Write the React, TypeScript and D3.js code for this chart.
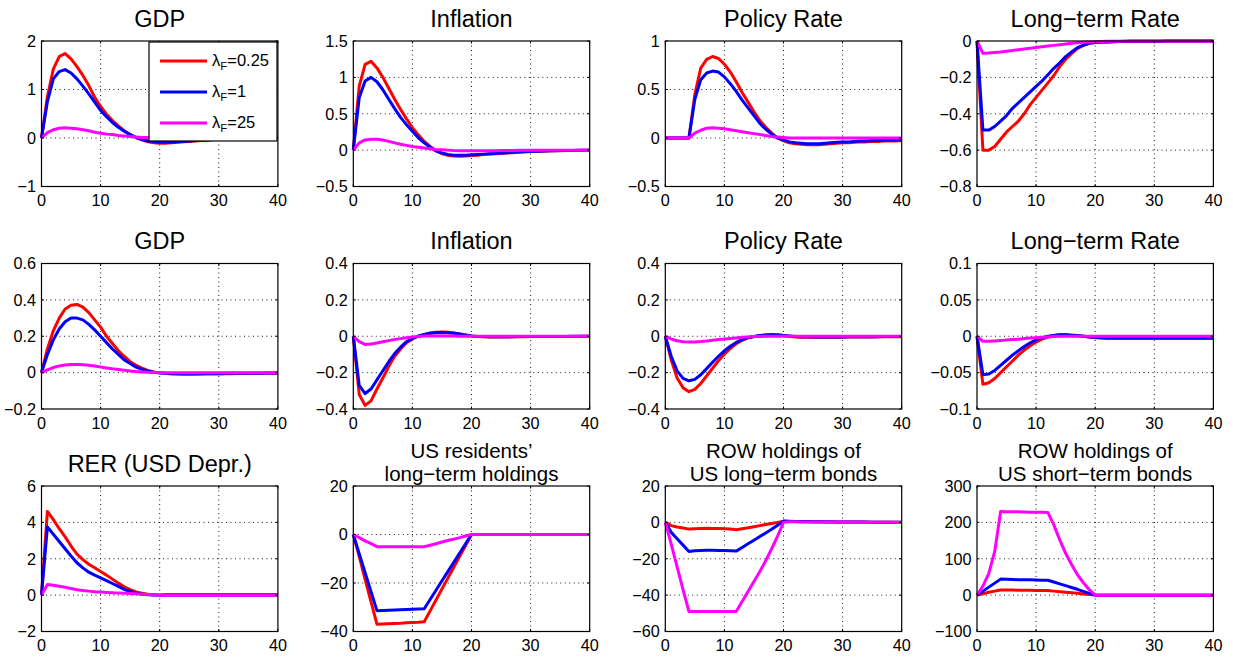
import React from 'react';
import * as d3 from 'd3';

// ---------- DATA ----------
const xTicks = [0, 10, 20, 30, 40];
const seriesNames = ['λF=0.25', 'λF=1', 'λF=25'];
const seriesColors = ['#ff0000', '#0000ff', '#ff00ff'];

// Row 1
const gdpA_r = [0,0.85,1.42,1.68,1.74,1.63,1.47,1.29,1.08,0.84,0.65,0.49,0.36,0.25,0.15,0.07,0.01,-0.04,-0.08,-0.1,-0.11,-0.11,-0.1,-0.09,-0.08,-0.07,-0.06,-0.05,-0.04,-0.03,-0.03,-0.02,-0.02,-0.01,-0.01,-0.01,-0.01,0,0,0,0];
const gdpA_b = [0,0.75,1.22,1.37,1.41,1.34,1.22,1.07,0.91,0.74,0.57,0.44,0.32,0.22,0.14,0.07,0.01,-0.03,-0.06,-0.08,-0.09,-0.09,-0.09,-0.08,-0.07,-0.06,-0.05,-0.04,-0.04,-0.03,-0.02,-0.02,-0.02,-0.01,-0.01,-0.01,-0.01,0,0,0,0];
const gdpA_m = [0,0.11,0.17,0.2,0.21,0.2,0.19,0.17,0.15,0.12,0.1,0.08,0.07,0.05,0.04,0.03,0.02,0.01,0.01,0,0,0,-0.01,-0.01,-0.01,-0.01,-0.01,-0.01,-0.01,0,0,0,0,0,0,0,0,0,0,0,0];

const infA_r = [0,0.88,1.18,1.22,1.13,1,0.85,0.7,0.56,0.43,0.31,0.21,0.12,0.05,-0.01,-0.05,-0.07,-0.08,-0.085,-0.08,-0.075,-0.07,-0.06,-0.055,-0.05,-0.045,-0.04,-0.035,-0.03,-0.025,-0.02,-0.018,-0.015,-0.012,-0.01,-0.008,-0.006,-0.005,-0.004,-0.003,-0.002];
const infA_b = [0,0.72,0.95,1,0.94,0.83,0.7,0.57,0.45,0.35,0.26,0.17,0.1,0.04,-0.01,-0.04,-0.06,-0.07,-0.07,-0.07,-0.065,-0.06,-0.055,-0.05,-0.045,-0.04,-0.035,-0.03,-0.025,-0.02,-0.018,-0.015,-0.012,-0.01,-0.008,-0.006,-0.005,-0.004,-0.003,-0.002,-0.002];
const infA_m = [0,0.1,0.14,0.15,0.15,0.14,0.12,0.1,0.08,0.065,0.05,0.04,0.03,0.02,0.01,0.005,0,-0.005,-0.008,-0.01,-0.01,-0.01,-0.01,-0.008,-0.007,-0.006,-0.005,-0.004,-0.003,-0.002,-0.002,-0.001,-0.001,0,0,0,0,0,0,0,0];

const polA_r = [0,0,0,0,0,0.45,0.72,0.81,0.84,0.82,0.76,0.68,0.58,0.47,0.37,0.27,0.18,0.11,0.05,0,-0.03,-0.05,-0.06,-0.065,-0.07,-0.07,-0.07,-0.065,-0.06,-0.055,-0.05,-0.05,-0.045,-0.04,-0.04,-0.035,-0.035,-0.03,-0.03,-0.03,-0.025];
const polA_b = [0,0,0,0,0,0.4,0.6,0.67,0.69,0.68,0.63,0.56,0.48,0.39,0.31,0.23,0.15,0.09,0.04,0,-0.02,-0.04,-0.05,-0.055,-0.06,-0.06,-0.06,-0.055,-0.05,-0.045,-0.04,-0.04,-0.035,-0.03,-0.03,-0.025,-0.025,-0.02,-0.02,-0.02,-0.02];
const polA_m = [0,0,0,0,0,0.05,0.08,0.1,0.105,0.1,0.095,0.085,0.075,0.065,0.055,0.045,0.035,0.025,0.015,0.01,0.005,0,0,0,0,0,0,0,0,0,0,0,0,0,0,0,0,0,0,0,0];

const ltA_r = [0,-0.6,-0.6,-0.58,-0.54,-0.5,-0.47,-0.44,-0.4,-0.35,-0.31,-0.27,-0.23,-0.19,-0.14,-0.1,-0.07,-0.04,-0.025,-0.013,-0.008,-0.006,-0.005,-0.004,-0.003,-0.003,-0.002,-0.002,-0.002,-0.001,-0.001,-0.001,0,0,0,0,0,0,0,0,0];
const ltA_b = [0,-0.49,-0.49,-0.47,-0.44,-0.41,-0.37,-0.34,-0.31,-0.28,-0.25,-0.22,-0.185,-0.15,-0.12,-0.086,-0.06,-0.037,-0.022,-0.013,-0.008,-0.006,-0.005,-0.004,-0.003,-0.003,-0.002,-0.002,-0.002,-0.001,-0.001,-0.001,0,0,0,0,0,0,0,0,0];
const ltA_m = [0,-0.068,-0.066,-0.063,-0.06,-0.056,-0.052,-0.048,-0.044,-0.04,-0.036,-0.032,-0.028,-0.024,-0.02,-0.016,-0.013,-0.01,-0.007,-0.005,-0.004,-0.003,-0.002,-0.002,-0.001,0,0,0,0,0,0,0,0,0,0,0,0,0,0,0,0];

// Row 2
const gdpB_r = [0,0.13,0.23,0.3,0.35,0.37,0.375,0.36,0.33,0.29,0.25,0.2,0.16,0.12,0.09,0.06,0.04,0.025,0.012,0.004,0,-0.004,-0.007,-0.008,-0.009,-0.009,-0.009,-0.008,-0.008,-0.007,-0.007,-0.006,-0.006,-0.005,-0.005,-0.005,-0.004,-0.004,-0.004,-0.003,-0.003];
const gdpB_b = [0,0.1,0.18,0.24,0.28,0.3,0.3,0.29,0.265,0.235,0.2,0.165,0.13,0.1,0.07,0.05,0.03,0.018,0.008,0.002,-0.002,-0.004,-0.005,-0.006,-0.006,-0.006,-0.006,-0.006,-0.005,-0.005,-0.005,-0.004,-0.004,-0.004,-0.003,-0.003,-0.003,-0.003,-0.002,-0.002,-0.002];
const gdpB_m = [0,0.015,0.028,0.037,0.042,0.045,0.045,0.043,0.04,0.036,0.031,0.026,0.021,0.017,0.013,0.009,0.006,0.004,0.002,0.001,0,0,0,0,0,0,0,0,0,0,0,0,0,0,0,0,0,0,0,0,0];

const infB_r = [0,-0.32,-0.38,-0.355,-0.29,-0.23,-0.165,-0.11,-0.07,-0.036,-0.015,0,0.009,0.018,0.022,0.024,0.022,0.018,0.013,0.007,0.002,-0.002,-0.003,-0.004,-0.004,-0.004,-0.004,-0.003,-0.003,-0.003,-0.002,-0.002,-0.002,-0.002,-0.001,-0.001,-0.001,-0.001,-0.001,0,0];
const infB_b = [0,-0.27,-0.315,-0.29,-0.24,-0.19,-0.14,-0.095,-0.06,-0.03,-0.012,0.001,0.01,0.016,0.019,0.02,0.019,0.016,0.012,0.007,0.002,-0.001,-0.002,-0.003,-0.003,-0.003,-0.003,-0.003,-0.002,-0.002,-0.002,-0.002,-0.001,-0.001,-0.001,-0.001,-0.001,0,0,0,0];
const infB_m = [0,-0.03,-0.045,-0.043,-0.037,-0.03,-0.024,-0.018,-0.013,-0.008,-0.004,-0.001,0.001,0.002,0.002,0.002,0.001,0.001,0,0,0,0,0,0,0,0,0,0,0,0,0,0,0,0,0,0,0,0,0,0,0];

const polB_r = [0,-0.13,-0.23,-0.283,-0.305,-0.292,-0.26,-0.218,-0.176,-0.135,-0.098,-0.067,-0.041,-0.022,-0.009,-0.002,0.004,0.007,0.009,0.008,0.004,0,-0.004,-0.005,-0.005,-0.005,-0.005,-0.005,-0.005,-0.005,-0.005,-0.004,-0.004,-0.004,-0.004,-0.004,-0.003,-0.003,-0.003,-0.003,-0.003];
const polB_b = [0,-0.11,-0.19,-0.232,-0.245,-0.237,-0.212,-0.178,-0.143,-0.11,-0.08,-0.055,-0.034,-0.018,-0.007,-0.001,0.004,0.007,0.008,0.007,0.004,0.001,-0.002,-0.003,-0.003,-0.004,-0.004,-0.004,-0.004,-0.004,-0.004,-0.003,-0.003,-0.003,-0.003,-0.003,-0.003,-0.002,-0.002,-0.002,-0.002];
const polB_m = [0,-0.015,-0.025,-0.03,-0.032,-0.031,-0.029,-0.026,-0.022,-0.018,-0.015,-0.012,-0.009,-0.006,-0.004,-0.002,-0.001,0,0,0,0,0,0,0,0,0,0,0,0,0,0,0,0,0,0,0,0,0,0,0,0];

const ltB_r = [0,-0.066,-0.064,-0.058,-0.05,-0.042,-0.034,-0.026,-0.019,-0.013,-0.008,-0.004,-0.001,0.001,0.002,0.002,0.0015,0.001,0,-0.001,-0.002,-0.0025,-0.003,-0.003,-0.003,-0.003,-0.003,-0.003,-0.003,-0.003,-0.003,-0.003,-0.003,-0.003,-0.003,-0.003,-0.003,-0.003,-0.003,-0.003,-0.003];
const ltB_b = [0,-0.053,-0.052,-0.047,-0.04,-0.033,-0.026,-0.02,-0.014,-0.009,-0.005,-0.002,0,0.001,0.002,0.002,0.0015,0.001,0,-0.001,-0.0015,-0.002,-0.002,-0.002,-0.002,-0.002,-0.002,-0.002,-0.002,-0.002,-0.002,-0.002,-0.002,-0.002,-0.002,-0.002,-0.002,-0.002,-0.002,-0.002,-0.002];
const ltB_m = [0,-0.007,-0.007,-0.0065,-0.006,-0.005,-0.0045,-0.004,-0.003,-0.0025,-0.002,-0.0015,-0.001,-0.0005,0,0,0,0,0,0,0,0,0,0,0,0,0,0,0,0,0,0,0,0,0,0,0,0,0,0,0];

// Row 3
const rer_r = [0,4.6,4.15,3.65,3.2,2.7,2.25,1.95,1.7,1.5,1.3,1.1,0.88,0.66,0.46,0.3,0.18,0.1,0.05,0.02,0,0.02,0.02,0.02,0.02,0.02,0.02,0.02,0.02,0.02,0.02,0.02,0.02,0.02,0.02,0.02,0.02,0.02,0.02,0.02,0.02];
const rer_b = [0,3.75,3.35,2.95,2.55,2.15,1.78,1.5,1.26,1.1,0.95,0.8,0.64,0.48,0.32,0.2,0.11,0.05,0.02,0.01,0,0.01,0.01,0.01,0.01,0.01,0.01,0.01,0.01,0.01,0.01,0.01,0.01,0.01,0.01,0.01,0.01,0.01,0.01,0.01,0.01];
const rer_m = [0,0.58,0.54,0.49,0.43,0.36,0.3,0.26,0.22,0.19,0.17,0.15,0.13,0.11,0.1,0.09,0.07,0.05,0.03,0.015,0,0,0,0,0,0,0,0,0,0,0,0,0,0,0,0,0,0,0,0,0];

const usLT_r = [0,-9,-18.5,-27.8,-37,-36.9,-36.8,-36.7,-36.6,-36.4,-36.3,-36.2,-36,-31.5,-27,-22.5,-18,-13.5,-9,-4.5,0,0,0,0,0,0,0,0,0,0,0,0,0,0,0,0,0,0,0,0,0];
const usLT_b = [0,-7.9,-15.8,-23.6,-31.4,-31.3,-31.2,-31.1,-31,-30.9,-30.8,-30.7,-30.6,-26.8,-23,-19.1,-15.3,-11.5,-7.6,-3.8,0,0,0,0,0,0,0,0,0,0,0,0,0,0,0,0,0,0,0,0,0];
const usLT_m = [0,-1.3,-2.6,-3.8,-5,-5,-5,-5,-5,-5,-5,-5,-5,-4.4,-3.8,-3.1,-2.5,-1.9,-1.3,-0.6,0,0,0,0,0,0,0,0,0,0,0,0,0,0,0,0,0,0,0,0,0];

const rowLT_r = [0,-1.8,-2.5,-3.1,-3.7,-3.5,-3.3,-3.2,-3.3,-3.4,-3.5,-3.7,-4,-3.5,-3,-2.4,-1.8,-1.2,-0.6,0,0.6,0.5,0.45,0.4,0.35,0.3,0.3,0.25,0.25,0.2,0.2,0.2,0.15,0.15,0.1,0.1,0.1,0.1,0.05,0.05,0.05];
const rowLT_b = [0,-5.5,-9,-12.5,-16,-15.6,-15.4,-15.3,-15.3,-15.4,-15.5,-15.6,-15.8,-13.8,-11.8,-9.8,-7.8,-5.8,-3.8,-1.6,0.7,0.6,0.55,0.5,0.45,0.4,0.35,0.3,0.3,0.25,0.25,0.2,0.2,0.15,0.15,0.1,0.1,0.1,0.05,0.05,0.05];
const rowLT_m = [0,-12,-24.5,-37,-49,-49,-49,-49,-49,-49,-49,-49,-49,-43.5,-38,-32.5,-27,-21,-14.5,-7.5,0,0.3,0.3,0.25,0.25,0.2,0.2,0.2,0.15,0.15,0.15,0.1,0.1,0.1,0.1,0.05,0.05,0.05,0.05,0,0];

const rowST_r = [0,4,8,11,14,14,13.8,13.6,13.4,13.2,13,12.8,12.5,11,9.5,8,6.5,5,3.3,1.6,0,0,0,0,0,0,0,0,0,0,0,0,0,0,0,0,0,0,0,0,0];
const rowST_b = [0,11,22,33,44,43.5,43,42.5,42,42,41.5,41,41,36,31,26,21,16,10.5,5,0,0,0,0,0,0,0,0,0,0,0,0,0,0,0,0,0,0,0,0,0];
const rowST_m = [0,25,60,120,230,229.5,229,229,228.5,228,228,227.5,227,193,152,115,84,56,34,15,0,0,0,0,0,0,0,0,0,0,0,0,0,0,0,0,0,0,0,0,0];

// titles & y ticks
const titles = [
  ['GDP'], ['Inflation'], ['Policy Rate'], ['Long−term Rate'],
  ['GDP'], ['Inflation'], ['Policy Rate'], ['Long−term Rate'],
  ['RER (USD Depr.)'], ['US residents’', 'long−term holdings'], ['ROW holdings of', 'US long−term bonds'], ['ROW holdings of', 'US short−term bonds'],
];
const yTicks = [
  [-1, 0, 1, 2], [-0.5, 0, 0.5, 1, 1.5], [-0.5, 0, 0.5, 1], [-0.8, -0.6, -0.4, -0.2, 0],
  [-0.2, 0, 0.2, 0.4, 0.6], [-0.4, -0.2, 0, 0.2, 0.4], [-0.4, -0.2, 0, 0.2, 0.4], [-0.1, -0.05, 0, 0.05, 0.1],
  [-2, 0, 2, 4, 6], [-40, -20, 0, 20], [-60, -40, -20, 0, 20], [-100, 0, 100, 200, 300],
];
const panelSeries = [
  [gdpA_r, gdpA_b, gdpA_m], [infA_r, infA_b, infA_m], [polA_r, polA_b, polA_m], [ltA_r, ltA_b, ltA_m],
  [gdpB_r, gdpB_b, gdpB_m], [infB_r, infB_b, infB_m], [polB_r, polB_b, polB_m], [ltB_r, ltB_b, ltB_m],
  [rer_r, rer_b, rer_m], [usLT_r, usLT_b, usLT_m], [rowLT_r, rowLT_b, rowLT_m], [rowST_r, rowST_b, rowST_m],
];

// ---------- LAYOUT ----------
const W = 1233, H = 658;
const colLeft = [41.5, 353.3, 665.3, 977];
const rowTop = [41, 263.5, 486];
const PW = 236.4, PH = 145.5;
const FONT = '"Liberation Sans", Arial, Helvetica, sans-serif';
const TICK_FS = 16.2;

const fmt = (v: number) => (v < 0 ? '−' + String(Math.abs(v)) : String(v));

function Panel({ idx }: { idx: number }) {
  const col = idx % 4, row = Math.floor(idx / 4);
  const L = colLeft[col], T = rowTop[row];
  const yt = yTicks[idx];
  const x = d3.scaleLinear().domain([0, 40]).range([L, L + PW]);
  const y = d3.scaleLinear().domain([yt[0], yt[yt.length - 1]]).range([T + PH, T]);
  const line = d3.line<number>().x((_, i) => x(i)).y((d) => y(d));
  const t = titles[idx];
  const cx = L + PW / 2;
  const tickLen = 2.5;
  return (
    <g>
      {t.length === 1 ? (
        <text x={cx} y={T - 14.5} textAnchor="middle" fontSize={23.5} fontFamily={FONT}>{t[0]}</text>
      ) : (
        <g>
          <text x={cx} y={T - 28.5} textAnchor="middle" fontSize={20.5} fontFamily={FONT}>{t[0]}</text>
          <text x={cx} y={T - 5.5} textAnchor="middle" fontSize={20.5} fontFamily={FONT}>{t[1]}</text>
        </g>
      )}
      <rect x={L} y={T} width={PW} height={PH} fill="#fff" />
      {xTicks.slice(1, -1).map((v) => (
        <line key={'gx' + v} x1={x(v)} x2={x(v)} y1={T} y2={T + PH} stroke="#000" strokeWidth={0.9} strokeDasharray="1,3.5" />
      ))}
      {yt.slice(1, -1).map((v) => (
        <line key={'gy' + v} x1={L} x2={L + PW} y1={y(v)} y2={y(v)} stroke="#000" strokeWidth={0.9} strokeDasharray="1,3.5" />
      ))}
      {panelSeries[idx].map((s, k) => (
        <path key={k} d={line(s) || ''} fill="none" stroke={seriesColors[k]} strokeWidth={3} strokeLinejoin="round" />
      ))}
      <rect x={L} y={T} width={PW} height={PH} fill="none" stroke="#000" strokeWidth={1.2} />
      {xTicks.map((v) => (
        <g key={'tx' + v}>
          <line x1={x(v)} x2={x(v)} y1={T + PH} y2={T + PH - tickLen} stroke="#000" />
          <line x1={x(v)} x2={x(v)} y1={T} y2={T + tickLen} stroke="#000" />
          <text x={x(v)} y={T + PH + 19.5} textAnchor="middle" fontSize={TICK_FS} fontFamily={FONT}>{fmt(v)}</text>
        </g>
      ))}
      {yt.map((v) => (
        <g key={'ty' + v}>
          <line x1={L} x2={L + tickLen} y1={y(v)} y2={y(v)} stroke="#000" />
          <line x1={L + PW} x2={L + PW - tickLen} y1={y(v)} y2={y(v)} stroke="#000" />
          <text x={L - 5.5} y={y(v)} dy="0.36em" textAnchor="end" fontSize={TICK_FS} fontFamily={FONT}>{fmt(v)}</text>
        </g>
      ))}
      {idx === 0 && <Legend />}
    </g>
  );
}

function Legend() {
  const bx = 149, by = 42, bw = 128, bh = 99;
  return (
    <g>
      <rect x={bx} y={by} width={bw} height={bh} fill="#fff" stroke="#000" strokeWidth={1.2} />
      {seriesNames.map((name, k) => {
        const yy = by + 19 + k * 31;
        const lam = name.slice(0, 2), rest = name.slice(2);
        return (
          <g key={name}>
            <line x1={bx + 11} x2={bx + 58} y1={yy} y2={yy} stroke={seriesColors[k]} strokeWidth={3} />
            <text x={bx + 63} y={yy + 5} fontSize={16.5} fontFamily={FONT}>
              <tspan>{lam[0]}</tspan>
              <tspan fontSize={11.5} dy={4}>{lam[1]}</tspan>
              <tspan dy={-4}>{rest}</tspan>
            </text>
          </g>
        );
      })}
    </g>
  );
}

export default function App() {
  return (
    <svg width={W} height={H} style={{ position: 'absolute', left: 0, top: 0, background: '#fff' }}>
      <rect width={W} height={H} fill="#fff" />
      {d3.range(12).map((i) => <Panel key={i} idx={i} />)}
    </svg>
  );
}
